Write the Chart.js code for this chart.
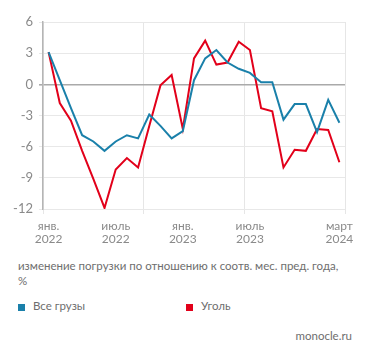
<!DOCTYPE html>
<html><head><meta charset="utf-8">
<script src="https://cdn.jsdelivr.net/npm/chart.js@4/dist/chart.umd.min.js"></script>
<style>
html,body{margin:0;padding:0;background:#fff;}
#wrap{position:relative;width:371px;height:358px;font-family:Lato,"Open Sans",sans-serif;color:#6e6e6e;}
#box{position:absolute;left:0;top:0;width:371px;height:251px;}
.t{position:absolute;white-space:nowrap;}
.sq{position:absolute;width:7px;height:7px;}
</style></head><body>
<div id="wrap">
<div id="box"><canvas id="c" width="371" height="251"></canvas></div>
<div class="t" style="left:18px;top:258px;font-size:11.5px;line-height:15px;">изменение погрузки по отношению к соотв. мес. пред. года,<br>%</div>
<div class="sq" style="left:18px;top:304px;background:#1a80aa;"></div>
<div class="t" style="left:33px;top:299px;font-size:11.5px;">Все грузы</div>
<div class="sq" style="left:186px;top:304px;background:#e2001a;"></div>
<div class="t" style="left:201px;top:299px;font-size:11.5px;">Уголь</div>
<div class="t" style="right:19px;top:329px;font-size:11.5px;">monocle.ru</div>
</div>
<script>
const months = ["2022-01","2022-02","2022-03","2022-04","2022-05","2022-06","2022-07","2022-08","2022-09","2022-10","2022-11","2022-12","2023-01","2023-02","2023-03","2023-04","2023-05","2023-06","2023-07","2023-08","2023-09","2023-10","2023-11","2023-12","2024-01","2024-02","2024-03"];
const allCargo = [3.1, 0.4, -2.3, -4.9, -5.5, -6.4, -5.5, -4.9, -5.2, -2.9, -4.0, -5.2, -4.5, 0.4, 2.5, 3.3, 2.1, 1.5, 1.1, 0.2, 0.2, -3.4, -1.9, -1.9, -4.6, -1.5, -3.7];
const coal = [3.1, -1.8, -3.5, -6.4, -9.1, -11.9, -8.2, -7.1, -8.0, -4.0, -0.1, 0.9, -4.3, 2.5, 4.2, 1.9, 2.1, 4.1, 3.3, -2.3, -2.6, -8.0, -6.3, -6.4, -4.3, -4.4, -7.5];
const tickLabels = {0:["янв.","2022"],6:["июль","2022"],12:["янв.","2023"],18:["июль","2023"],26:["март","2024"]};
const gridPositions = [-0.5, 8.5, 17.5, 26.5];
const yTicks = [-12,-9,-6,-3,0,3,6];

const toPts = arr => arr.map((v,i)=>({x:i,y:v}));
new Chart(document.getElementById('c'), {
  type:'line',
  data:{datasets:[
    {label:'Все грузы',data:toPts(allCargo),borderColor:'#1a80aa',borderWidth:2,pointRadius:0,tension:0,order:1},
    {label:'Уголь',data:toPts(coal),borderColor:'#e2001a',borderWidth:2,pointRadius:0,tension:0,order:2}
  ]},
  options:{
    responsive:false,animation:false,
    layout:{padding:{top:22,right:26,left:0,bottom:0}},
    plugins:{legend:{display:false},tooltip:{enabled:false}},
    scales:{
      x:{type:'linear',min:-0.5,max:26.5,
        afterBuildTicks:a=>{a.ticks=[...gridPositions,...Object.keys(tickLabels).map(Number)].sort((p,q)=>p-q).map(v=>({value:v}));},
        afterFit:s=>{s.height=42;},
        grid:{color:c=>gridPositions.includes(c.tick&&c.tick.value)?'#e6e6e6':'rgba(0,0,0,0)',tickLength:5,drawOnChartArea:true},
        border:{display:false},
        ticks:{autoSkip:false,maxRotation:0,padding:6,color:'#8a8a8a',font:{family:'Lato',size:12,lineHeight:1.05},
          callback:v=>tickLabels[v]||''}
      },
      y:{min:-12,max:6,
        afterBuildTicks:a=>{a.ticks=yTicks.map(v=>({value:v}));},
        afterFit:s=>{s.width=43;},
        grid:{color:c=>(c.tick&&c.tick.value===0)?'#aaaaaa':'#e8e8e8',lineWidth:c=>(c.tick&&c.tick.value===0)?1.6:1,tickLength:4},
        border:{display:true,color:'#b5b5b5',width:1.5},
        ticks:{padding:6,color:'#8a8a8a',font:{family:'Lato',size:13}}
      }
    }
  }
});
</script>
</body></html>
